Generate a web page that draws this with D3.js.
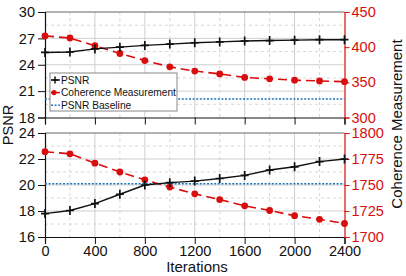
<!DOCTYPE html>
<html>
<head>
<meta charset="utf-8">
<script src="https://cdn.jsdelivr.net/npm/d3@7"></script>
<style>
  body { margin: 0; background: #fff; }
  svg { display: block; font-family: "Liberation Sans", Arial, sans-serif; }
</style>
</head>
<body>
<script>
// data
const iterations = [0, 200, 400, 600, 800, 1000, 1200, 1400, 1600, 1800, 2000, 2200, 2400];
const psnrTop = [25.4, 25.45, 25.8, 26.0, 26.2, 26.35, 26.5, 26.6, 26.7, 26.75, 26.8, 26.85, 26.85];
const coherenceTop = [416, 413, 402, 391, 381, 372, 366, 362, 357, 355, 353, 352, 351];
const psnrBottom = [17.8, 18.04, 18.57, 19.29, 20.0, 20.18, 20.3, 20.5, 20.74, 21.15, 21.4, 21.8, 22.0];
const coherenceBottom = [1782, 1780, 1771, 1762.5, 1755, 1748, 1741.5, 1736, 1730, 1725.5, 1720.5, 1717, 1713];
const psnrBaseline = 20.1;
const legendLabels = ["PSNR", "Coherence Measurement", "PSNR Baseline"];

const W = 406, H = 276;
const red = "#d80d0d", blue = "#1c74b8";

const svg = d3.select("body").append("svg")
    .attr("width", W)
    .attr("height", H);

const x = d3.scaleLinear().domain([0, 2400]).range([45, 344.5]);
const xMajor = d3.range(0, 2401, 400);
const xMinor = d3.range(200, 2400, 400);

// one panel = left PSNR axis + right coherence axis
const drawPanel = function (p) {
    const yL = d3.scaleLinear().domain(p.left).range([p.bottom, p.top]);
    const yR = d3.scaleLinear().domain(p.right).range([p.bottom, p.top]);
    const g = svg.append("g");

    // grid: solid at major, dashed at minor
    const leftMajor = d3.range(p.left[0], p.left[1] + 0.001, p.leftStep);
    const leftMinor = leftMajor.slice(0, -1).map(d => d + p.leftStep / 2);
    g.selectAll(".gx").data(xMajor.slice(1, -1)).join("line")
        .attr("x1", d => x(d)).attr("x2", d => x(d))
        .attr("y1", p.top).attr("y2", p.bottom)
        .attr("stroke", "#cfcfcf").attr("stroke-width", 1);
    g.selectAll(".gxm").data(xMinor).join("line")
        .attr("x1", d => x(d)).attr("x2", d => x(d))
        .attr("y1", p.top).attr("y2", p.bottom)
        .attr("stroke", "#d8d8d8").attr("stroke-dasharray", "3,3");
    g.selectAll(".gy").data(leftMajor.slice(1, -1)).join("line")
        .attr("x1", x(0)).attr("x2", x(2400))
        .attr("y1", d => yL(d)).attr("y2", d => yL(d))
        .attr("stroke", "#cfcfcf").attr("stroke-width", 1);
    g.selectAll(".gym").data(leftMinor).join("line")
        .attr("x1", x(0)).attr("x2", x(2400))
        .attr("y1", d => yL(d)).attr("y2", d => yL(d))
        .attr("stroke", "#d8d8d8").attr("stroke-dasharray", "3,3");

    // top border
    g.append("line")
        .attr("x1", x(0)).attr("x2", x(2400))
        .attr("y1", p.top).attr("y2", p.top)
        .attr("stroke", "#666").attr("stroke-width", 1.2);

    // bottom axis
    const xa = g.append("g").attr("transform", `translate(0,${p.bottom})`);
    xa.call(d3.axisBottom(x).tickValues(xMinor).tickSize(4).tickFormat(""));
    xa.call(d3.axisBottom(x).tickValues(xMajor).tickSize(7)
        .tickFormat(p.xLabels ? d3.format("d") : ""));
    xa.selectAll("text").attr("font-size", 14.5).attr("fill", "#111").attr("y", 9);

    // left axis
    const ya = g.append("g").attr("transform", `translate(${x(0)},0)`);
    ya.call(d3.axisLeft(yL).tickValues(leftMinor).tickSize(4).tickFormat(""));
    ya.call(d3.axisLeft(yL).tickValues(leftMajor).tickSize(7).tickFormat(d3.format("d")));
    ya.selectAll("text").attr("font-size", 14.5).attr("fill", "#111").attr("x", -10);

    // right axis, red
    const rightMajor = d3.range(p.right[0], p.right[1] + 0.001, p.rightStep);
    const rightMinor = rightMajor.slice(0, -1).map(d => d + p.rightStep / 2);
    const ra = g.append("g").attr("transform", `translate(${x(2400)},0)`);
    ra.call(d3.axisRight(yR).tickValues(rightMinor).tickSize(4).tickFormat(""));
    ra.call(d3.axisRight(yR).tickValues(rightMajor).tickSize(5).tickFormat(d3.format("d")));
    ra.selectAll("path, line").attr("stroke", red);
    ra.selectAll("text").attr("font-size", 14.5).attr("fill", red).attr("x", 7);
    [xa, ya].forEach(a => a.selectAll("path, line").attr("stroke", "#111"));
    g.selectAll(".domain").attr("stroke-width", 1.2);

    // baseline
    g.append("line")
        .attr("x1", x(0)).attr("x2", x(2400))
        .attr("y1", yL(psnrBaseline)).attr("y2", yL(psnrBaseline))
        .attr("stroke", blue).attr("stroke-width", 1.6)
        .attr("stroke-dasharray", "2,1.6");

    // coherence line
    g.append("path")
        .datum(p.coherence)
        .attr("fill", "none").attr("stroke", red).attr("stroke-width", 1.6)
        .attr("stroke-dasharray", "9,5")
        .attr("d", d3.line().x((d, i) => x(iterations[i])).y(d => yR(d)));
    g.selectAll(".dot").data(p.coherence).join("circle")
        .attr("cx", (d, i) => x(iterations[i])).attr("cy", d => yR(d))
        .attr("r", 3.4).attr("fill", red);

    // psnr line
    g.append("path")
        .datum(p.psnr)
        .attr("fill", "none").attr("stroke", "#111").attr("stroke-width", 1.4)
        .attr("d", d3.line().x((d, i) => x(iterations[i])).y(d => yL(d)));
    g.selectAll(".plus").data(p.psnr).join("path")
        .attr("transform", (d, i) => `translate(${x(iterations[i])},${yL(d)})`)
        .attr("d", "M-4,0H4M0,-4.5V4.5")
        .attr("stroke", "#111").attr("stroke-width", 1.7);
};

drawPanel({top: 12, bottom: 117.5, left: [18, 30], leftStep: 3, right: [300, 450], rightStep: 50,
    psnr: psnrTop, coherence: coherenceTop, xLabels: false});
drawPanel({top: 133, bottom: 237, left: [16, 24], leftStep: 2, right: [1700, 1800], rightStep: 25,
    psnr: psnrBottom, coherence: coherenceBottom, xLabels: true});

// legend
const lg = svg.append("g").attr("transform", "translate(50,73)");
lg.append("rect").attr("width", 127).attr("height", 38)
    .attr("fill", "#fff").attr("stroke", "#888").attr("stroke-width", 1);
const rows = lg.selectAll(".row").data(legendLabels).join("g")
    .attr("transform", (d, i) => `translate(0,${7 + i * 12.6})`);
rows.append("text").attr("x", 11).attr("y", 3.8)
    .attr("font-size", 10.2).attr("fill", "#111").text(d => d);
rows.filter((d, i) => i === 0).each(function () {
    const r = d3.select(this);
    r.append("line").attr("x1", 1).attr("x2", 10).attr("stroke", "#111").attr("stroke-width", 1.3);
    r.append("path").attr("d", "M1.5,0H8.5M5,-3.5V3.5").attr("stroke", "#111").attr("stroke-width", 1.5);
});
rows.filter((d, i) => i === 1).each(function () {
    const r = d3.select(this);
    r.append("line").attr("x1", 1).attr("x2", 10).attr("stroke", red).attr("stroke-width", 1.5);
    r.append("circle").attr("cx", 4).attr("r", 2.6).attr("fill", red);
});
rows.filter((d, i) => i === 2).append("line")
    .attr("x1", 1).attr("x2", 10).attr("stroke", blue).attr("stroke-width", 1.6)
    .attr("stroke-dasharray", "2,1.6");

// axis titles
svg.append("text").attr("transform", "translate(13,125) rotate(-90)")
    .attr("text-anchor", "middle").attr("font-size", 14.5).attr("fill", "#111").text("PSNR");
svg.append("text").attr("transform", "translate(402,124) rotate(-90)")
    .attr("text-anchor", "middle").attr("font-size", 15).attr("fill", "#111").text("Coherence Measurement");
svg.append("text").attr("x", 197).attr("y", 272)
    .attr("text-anchor", "middle").attr("font-size", 15).attr("fill", "#111").text("Iterations");
</script>
</body>
</html>
